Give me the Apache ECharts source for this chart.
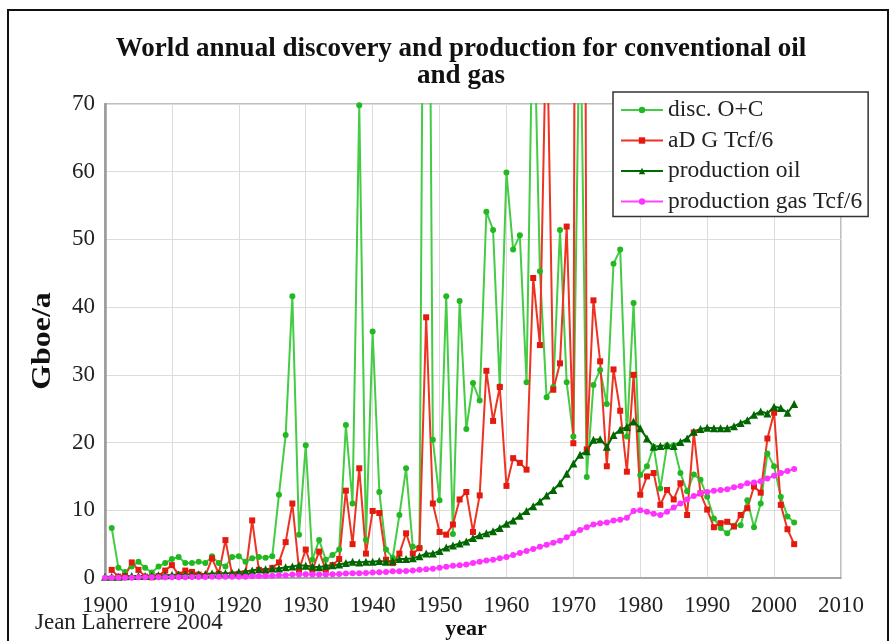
<!DOCTYPE html>
<html>
<head>
<meta charset="utf-8">
<script src="https://cdn.jsdelivr.net/npm/echarts@6/dist/echarts.min.js"></script>
<style>
html,body{margin:0;padding:0;background:#fff;}
#chart{width:890px;height:641px;}
</style>
</head>
<body>
<div id="chart"></div>
<script>
// Years 1900..2003
var startYear = 1900;

var discOC = [
  null, 7.4, 1.5, 0.9, 1.7, 2.4, 1.5, 0.8, 1.7, 2.2,
  2.8, 3.1, 2.2, 2.2, 2.4, 2.2, 3.2, 2.2, 1.7, 3.1,
  3.2, 2.4, 2.9, 3.1, 3.0, 3.2, 12.3, 21.1, 41.6, 6.4,
  19.6, 2.7, 5.6, 2.7, 3.4, 4.2, 22.6, 11.0, 69.8, 5.6,
  36.4, 12.7, 4.2, 3.0, 9.3, 16.2, 4.6, 4.5, 170, 20.4,
  11.5, 41.6, 6.5, 40.9, 22.0, 28.8, 26.2, 54.1, 51.4, 28.3,
  59.9, 48.5, 50.6, 28.9, 89, 45.3, 26.7, 28.2, 51.4, 28.9,
  20.9, 88, 14.9, 28.5, 30.7, 25.7, 46.4, 48.5, 20.9, 40.6,
  15.2, 16.5, 19.4, 13.2, 19.6, 19.6, 15.5, 12.8, 15.3, 14.5,
  12.0, 8.8, 7.4, 6.6, 7.7, 7.8, 11.5, 7.5, 11.0, 18.4,
  16.5, 12.0, 9.1, 8.2
];

var adGas = [
  null, 1.2, 0.2, 0.3, 2.3, 1.2, 0.2, 0.1, 0.3, 1.1,
  1.9, 0.5, 1.1, 0.9, 0.5, 0.3, 2.9, 0.6, 5.6, 0.5,
  0.6, 0.7, 8.5, 1.2, 1.0, 1.5, 2.3, 5.3, 11.0, 1.2,
  4.2, 1.2, 3.9, 1.2, 1.9, 2.8, 12.9, 5.0, 16.2, 3.6,
  9.9, 9.6, 2.7, 2.2, 3.6, 6.6, 3.6, 4.4, 38.5, 11.0,
  6.8, 6.4, 7.9, 11.6, 12.7, 6.8, 12.2, 30.6, 23.2, 28.2,
  13.6, 17.7, 17.0, 16.0, 44.3, 34.4, 85, 27.8, 31.7, 51.9,
  19.9, 340, 19.0, 41.0, 32.0, 16.5, 30.8, 24.7, 15.7, 30.0,
  12.3, 15.0, 15.5, 10.8, 13.0, 11.6, 14.0, 9.3, 21.5, 12.5,
  10.1, 7.5, 8.1, 8.3, 7.6, 9.3, 10.3, 13.5, 12.6, 20.6,
  24.4, 10.8, 7.2, 5.0
];

var prodOil = [
  0.2, 0.2, 0.2, 0.25, 0.3, 0.3, 0.3, 0.35, 0.4, 0.4,
  0.45, 0.5, 0.5, 0.55, 0.55, 0.6, 0.65, 0.7, 0.7, 0.75,
  0.9, 1.0, 1.1, 1.3, 1.3, 1.4, 1.4, 1.6, 1.7, 1.9,
  1.8, 1.7, 1.6, 1.8, 1.9, 2.0, 2.2, 2.4, 2.3, 2.4,
  2.4, 2.5, 2.4, 2.5, 2.8, 2.8, 2.9, 3.2, 3.6, 3.6,
  4.0, 4.5, 4.8, 5.1, 5.4, 5.9, 6.3, 6.6, 6.9, 7.4,
  8.0, 8.5, 9.2, 9.9, 10.6, 11.3, 12.2, 13.0, 14.0, 15.4,
  16.9, 18.2, 18.7, 20.4, 20.5, 19.4, 21.1, 21.9, 22.3, 23.1,
  22.1, 20.6, 19.4, 19.5, 19.6, 19.5, 20.1, 20.6, 21.6, 22.0,
  22.2, 22.1, 22.1, 22.1, 22.4, 22.9, 23.3, 24.1, 24.6, 24.3,
  25.3, 25.1, 24.4, 25.7
];

var prodGas = [
  0.05, 0.05, 0.05, 0.05, 0.05, 0.1, 0.1, 0.1, 0.1, 0.1,
  0.1, 0.1, 0.1, 0.15, 0.15, 0.15, 0.2, 0.2, 0.2, 0.2,
  0.2, 0.2, 0.25, 0.3, 0.3, 0.35, 0.4, 0.4, 0.5, 0.5,
  0.55, 0.5, 0.5, 0.5, 0.55, 0.6, 0.65, 0.7, 0.7, 0.75,
  0.8, 0.85, 0.9, 1.0, 1.0, 1.05, 1.1, 1.2, 1.3, 1.35,
  1.5, 1.65, 1.8, 1.9, 2.0, 2.2, 2.4, 2.6, 2.7, 2.9,
  3.1, 3.4, 3.7, 4.0, 4.3, 4.6, 4.9, 5.2, 5.5, 6.0,
  6.6, 7.1, 7.5, 7.9, 8.1, 8.2, 8.5, 8.6, 8.9, 9.9,
  10.0, 9.8, 9.5, 9.3, 9.8, 10.4, 11.0, 11.6, 12.1, 12.5,
  12.7, 12.9, 13.0, 13.1, 13.4, 13.6, 14.0, 14.1, 14.3, 14.7,
  15.1, 15.5, 15.8, 16.1
];

var seriesNames = ['disc. O+C', 'aD G Tcf/6', 'production oil', 'production gas Tcf/6'];
var xTicks = {min: 1900, max: 2010, step: 10};
var yTicks = {min: 0, max: 70, step: 10};

function pairs(arr) {
  var out = [];
  for (var i = 0; i < arr.length; i++) {
    out.push([startYear + i, arr[i]]);
  }
  return out;
}

var serif = "'Liberation Serif', 'DejaVu Serif', serif";
var chart = echarts.init(document.getElementById('chart'));

chart.setOption({
  animation: false,
  backgroundColor: '#fff',
  title: {
    text: 'World annual discovery and production for conventional oil\nand gas',
    left: 456,
    top: 31,
    textAlign: 'center',
    textStyle: {fontFamily: serif, fontSize: 27, fontWeight: 'bold', color: '#111', lineHeight: 27}
  },
  legend: {
    orient: 'vertical',
    left: 613,
    top: 92,
    data: seriesNames,
    backgroundColor: '#fff',
    borderColor: '#333',
    borderWidth: 1.5,
    padding: [6, 6, 3, 7],
    itemWidth: 42,
    itemHeight: 8,
    itemGap: 6.5,
    textStyle: {fontFamily: serif, fontSize: 23.5, lineHeight: 24, color: '#222'},
    z: 10
  },
  grid: {left: 105, top: 104, width: 736, height: 474, show: true, borderColor: '#aaa', borderWidth: 1.5, backgroundColor: 'transparent'},
  xAxis: {
    type: 'value',
    min: xTicks.min, max: xTicks.max, interval: xTicks.step,
    axisLine: {show: true, lineStyle: {color: '#999', width: 1.5}},
    axisTick: {show: false},
    axisLabel: {fontFamily: serif, fontSize: 23, color: '#222', margin: 16, formatter: function(v){return String(v);}},
    splitLine: {show: true, lineStyle: {color: '#dcdcdc', width: 1}}
  },
  yAxis: {
    type: 'value',
    min: yTicks.min, max: yTicks.max, interval: yTicks.step,
    axisLine: {show: true, lineStyle: {color: '#999', width: 2.5}},
    axisTick: {show: false},
    axisLabel: {fontFamily: serif, fontSize: 23, color: '#222', margin: 10},
    splitLine: {show: true, lineStyle: {color: '#dcdcdc', width: 1}}
  },
  series: [
    {
      name: seriesNames[0], type: 'line', data: pairs(discOC), clip: true,
      symbol: 'circle', symbolSize: 6, connectNulls: false,
      lineStyle: {color: '#44cc44', width: 2},
      itemStyle: {color: '#22b822'}
    },
    {
      name: seriesNames[1], type: 'line', data: pairs(adGas), clip: true,
      symbol: 'rect', symbolSize: 6,
      lineStyle: {color: '#ee3322', width: 2},
      itemStyle: {color: '#e41a10'}
    },
    {
      name: seriesNames[2], type: 'line', data: pairs(prodOil), clip: true,
      symbol: 'triangle', symbolSize: 8,
      lineStyle: {color: '#006a00', width: 2},
      itemStyle: {color: '#006600'}
    },
    {
      name: seriesNames[3], type: 'line', data: pairs(prodGas), clip: true,
      symbol: 'circle', symbolSize: 6,
      lineStyle: {color: '#ff44ff', width: 2},
      itemStyle: {color: '#ff33ff'}
    }
  ],
  graphic: [
    {type: 'rect', shape: {x: 8, y: 10, width: 880, height: 650}, style: {fill: 'none', stroke: '#111', lineWidth: 2}, silent: true},
    {type: 'text', x: 43, y: 341, rotation: Math.PI / 2, scaleX: 1.18, style: {text: 'Gboe/a', fontFamily: serif, fontSize: 27, fontWeight: 'bold', fill: '#111', textAlign: 'center', textVerticalAlign: 'middle'}},
    {type: 'text', x: 466, y: 629, style: {text: 'year', fontFamily: serif, fontSize: 22, fontWeight: 'bold', fill: '#111', textAlign: 'center', textVerticalAlign: 'middle'}},
    {type: 'text', x: 35, y: 623, style: {text: 'Jean Laherrere 2004', fontFamily: serif, fontSize: 23, fill: '#222', textAlign: 'left', textVerticalAlign: 'middle'}}
  ]
});
</script>
</body>
</html>
